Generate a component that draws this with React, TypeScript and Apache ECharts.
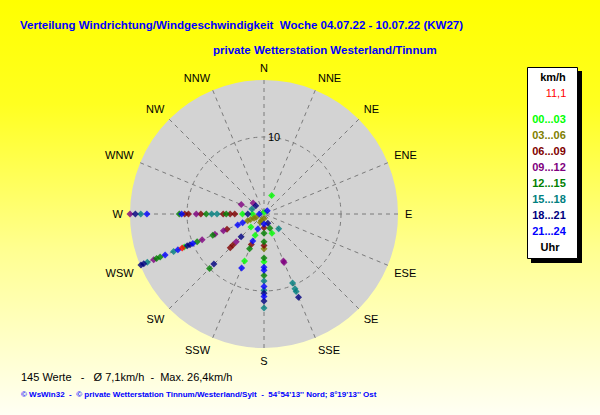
import React, { useEffect, useRef } from "react";
import * as echarts from "echarts";

const directions = ["N", "NNE", "NE", "ENE", "E", "ESE", "SE", "SSE", "S", "SSW", "SW", "WSW", "W", "WNW", "NW", "NNW"];
const timeBins = ["00...03", "03...06", "06...09", "09...12", "12...15", "15...18", "18...21", "21...24"];
const binColors = ["#00ff00", "#808000", "#800000", "#800080", "#008000", "#008080", "#000080", "#0000ff"];

// [direction, speed km/h]
const bin00: [string, number][] = [["W", 2.8], ["W", 1.5], ["WSW", 11.2], ["SW", 2.4], ["SSW", 6.6], ["SSW", 3.0], ["S", 6.2], ["SSE", 2.7], ["NNE", 2.6], ["N", 0.2]];
const bin03: [string, number][] = [["WSW", 2.3], ["WSW", 1.9], ["WSW", 1.4], ["WSW", 1.1], ["SSW", 1.2], ["SSW", 0.9], ["S", 4.5], ["S", 0.6]];
const bin06: [string, number][] = [["W", 10.3], ["W", 9.8], ["W", 8.2], ["W", 5.3], ["W", 4.4], ["W", 3.8], ["WSW", 5.2], ["SW", 6.2], ["SW", 5.7], ["SSW", 4.3], ["S", 4.1], ["S", 1.8]];
const bin09: [string, number][] = [["W", 17.4], ["W", 8.8], ["WSW", 15.5], ["WSW", 8.7], ["WSW", 6.9], ["WSW", 5.7], ["SW", 5.1], ["SSE", 6.8], ["SSE", 6.6], ["WNW", 3.2], ["NW", 2.0]];
const bin12: [string, number][] = [["W", 11.0], ["W", 7.5], ["W", 4.9], ["WSW", 15.1], ["WSW", 14.6], ["WSW", 9.4], ["WSW", 7.2], ["SW", 10.0], ["SSW", 4.9], ["S", 8.0], ["S", 5.7], ["S", 3.6], ["S", 2.5], ["SSE", 2.0]];
const bin15: [string, number][] = [["W", 16.0], ["W", 6.8], ["W", 6.1], ["WSW", 16.4], ["WSW", 12.7], ["S", 12.2], ["S", 9.9], ["S", 8.7], ["SSE", 10.9], ["SSE", 10.5], ["SSE", 9.7], ["SE", 2.7], ["WNW", 1.7]];
const bin18: [string, number][] = [["W", 16.7], ["W", 2.1], ["WSW", 17.3], ["WSW", 16.9], ["WSW", 10.8], ["WSW", 10.4], ["SW", 9.2], ["SW", 4.2], ["S", 11.3], ["S", 10.3], ["SSE", 11.7], ["SSE", 1.3], ["NW", 1.5]];
const bin21: [string, number][] = [["W", 15.2], ["W", 10.7], ["W", 0.6], ["WSW", 13.9], ["WSW", 12.1], ["WSW", 10.0], ["WSW", 3.7], ["WSW", 3.0], ["SSW", 7.6], ["SSW", 3.8], ["SSW", 2.1], ["S", 10.7], ["S", 9.4], ["S", 7.3], ["S", 6.9], ["S", 1.3], ["NE", 0.6]];
const binData = [bin00, bin03, bin06, bin09, bin12, bin15, bin18, bin21];

const currentPoint: [string, number] = ["WSW", 11.5];
const currentLabel = "11,1";

const radiusMax = 17.4;
const radiusTicks = [10];

const title1 = "Verteilung Windrichtung/Windgeschwindigkeit  Woche 04.07.22 - 10.07.22 (KW27)";
const title2 = "private Wetterstation Westerland/Tinnum";
const summary = "145 Werte   -   Ø 7,1km/h  -  Max. 26,4km/h";
const footer = "© WsWin32  -  © private Wetterstation Tinnum/Westerland/Sylt  -  54°54'13'' Nord; 8°19'13'' Ost";

const FONT = '"Liberation Sans", Arial, sans-serif';

function toPolar(list: [string, number][]) {
  return list.map(([d, v]) => [v, directions.indexOf(d) * 22.5]);
}

export default function App() {
  const ref = useRef<HTMLDivElement>(null);
  useEffect(() => {
    if (!ref.current) return;
    const chart = echarts.init(ref.current, undefined, { renderer: "svg" });
    const series: any[] = binData.map((list, i) => ({
      type: "scatter",
      name: timeBins[i],
      coordinateSystem: "polar",
      polarIndex: 1,
      symbol: "diamond",
      symbolSize: 7,
      itemStyle: { color: binColors[i] },
      data: toPolar(list),
      z: 3,
    }));
    series.push({
      type: "scatter",
      name: "aktuell",
      coordinateSystem: "polar",
      polarIndex: 1,
      symbol: "diamond",
      symbolSize: 7,
      itemStyle: { color: "#ff0000" },
      data: toPolar([currentPoint]),
      z: 4,
    });

    const legendTexts: any[] = [
      { type: "text", x: 553, y: 77, style: { text: "km/h", fontFamily: FONT, fontSize: 11, fontWeight: "bold", fill: "#000", align: "center", verticalAlign: "middle" } },
      { type: "text", x: 556, y: 93, style: { text: currentLabel, fontFamily: FONT, fontSize: 11, fill: "#ff0000", align: "center", verticalAlign: "middle" } },
      ...timeBins.map((t, i) => ({
        type: "text",
        x: 549,
        y: 119 + 16 * i,
        style: { text: t, fontFamily: FONT, fontSize: 11, fontWeight: "bold", fill: binColors[i], align: "center", verticalAlign: "middle" },
      })),
      { type: "text", x: 550, y: 247, style: { text: "Uhr", fontFamily: FONT, fontSize: 11, fontWeight: "bold", fill: "#000", align: "center", verticalAlign: "middle" } },
    ];

    const polarBox = { center: [264, 214], radius: 134 };
    const angleBase = {
      type: "value",
      min: 0,
      max: 360,
      interval: 22.5,
      startAngle: 90,
      clockwise: true,
      axisLine: { show: false },
      axisTick: { show: false },
    };

    chart.setOption({
      animation: false,
      polar: [polarBox, polarBox],
      angleAxis: [
        {
          ...angleBase,
          polarIndex: 0,
          z: 0,
          axisLabel: { show: false },
          splitLine: { show: false },
          splitArea: { show: true, areaStyle: { color: ["#d3d3d3"] } },
        },
        {
          ...angleBase,
          polarIndex: 1,
          z: 2,
          axisLabel: {
            margin: 7,
            color: "#000",
            fontFamily: FONT,
            fontSize: 11,
            formatter: (v: number) => (v >= 360 ? "" : directions[Math.round(v / 22.5) % 16]),
          },
          splitLine: { show: true, lineStyle: { color: "#7a7a7a", type: [4, 4], width: 1 } },
          splitArea: { show: false },
        },
      ],
      radiusAxis: [
        {
          type: "value",
          polarIndex: 0,
          min: 0,
          max: radiusMax,
          z: 0,
          axisLine: { show: false },
          axisTick: { show: false },
          axisLabel: { show: false },
          splitLine: { show: false },
        },
        {
          type: "value",
          polarIndex: 1,
          min: 0,
          max: radiusMax,
          interval: 10,
          z: 2,
          axisLine: { show: false },
          axisTick: { show: false },
          axisLabel: {
            show: true,
            color: "#000",
            fontFamily: FONT,
            fontSize: 11,
            align: "left",
            margin: -4,
            formatter: (v: number) => (radiusTicks.includes(v) ? String(v) : ""),
          },
          splitLine: { show: true, lineStyle: { color: ["transparent", "#7a7a7a", "transparent"], type: [4, 4], width: 1 } },
        },
      ],
      graphic: [
        { type: "text", x: 20, y: 25, style: { text: title1, fontFamily: FONT, fontSize: 11.5, fontWeight: "bold", fill: "#0000ff", verticalAlign: "middle" } },
        { type: "text", x: 213, y: 49.5, style: { text: title2, fontFamily: FONT, fontSize: 11.5, fontWeight: "bold", fill: "#0000ff", verticalAlign: "middle" } },
        { type: "rect", shape: { x: 531, y: 71, width: 51, height: 192 }, style: { fill: "#000" } },
        { type: "rect", shape: { x: 527.5, y: 67.5, width: 50, height: 191 }, style: { fill: "#fff", stroke: "#000", lineWidth: 1 } },
        ...legendTexts,
        { type: "text", x: 21, y: 377, style: { text: summary, fontFamily: FONT, fontSize: 11, fill: "#000", verticalAlign: "middle" } },
        { type: "text", x: 21, y: 394.5, style: { text: footer, fontFamily: FONT, fontSize: 8, fontWeight: "bold", fill: "#0000ff", verticalAlign: "middle" } },
      ],
      series,
    });
    return () => chart.dispose();
  }, []);
  return (
    <div
      ref={ref}
      style={{
        position: "absolute",
        left: 0,
        top: 0,
        width: 600,
        height: 415,
        background: "linear-gradient(to bottom, #ffff00 0%, #ffff20 25%, #ffff90 60%, #fffff4 100%)",
      }}
    />
  );
}
